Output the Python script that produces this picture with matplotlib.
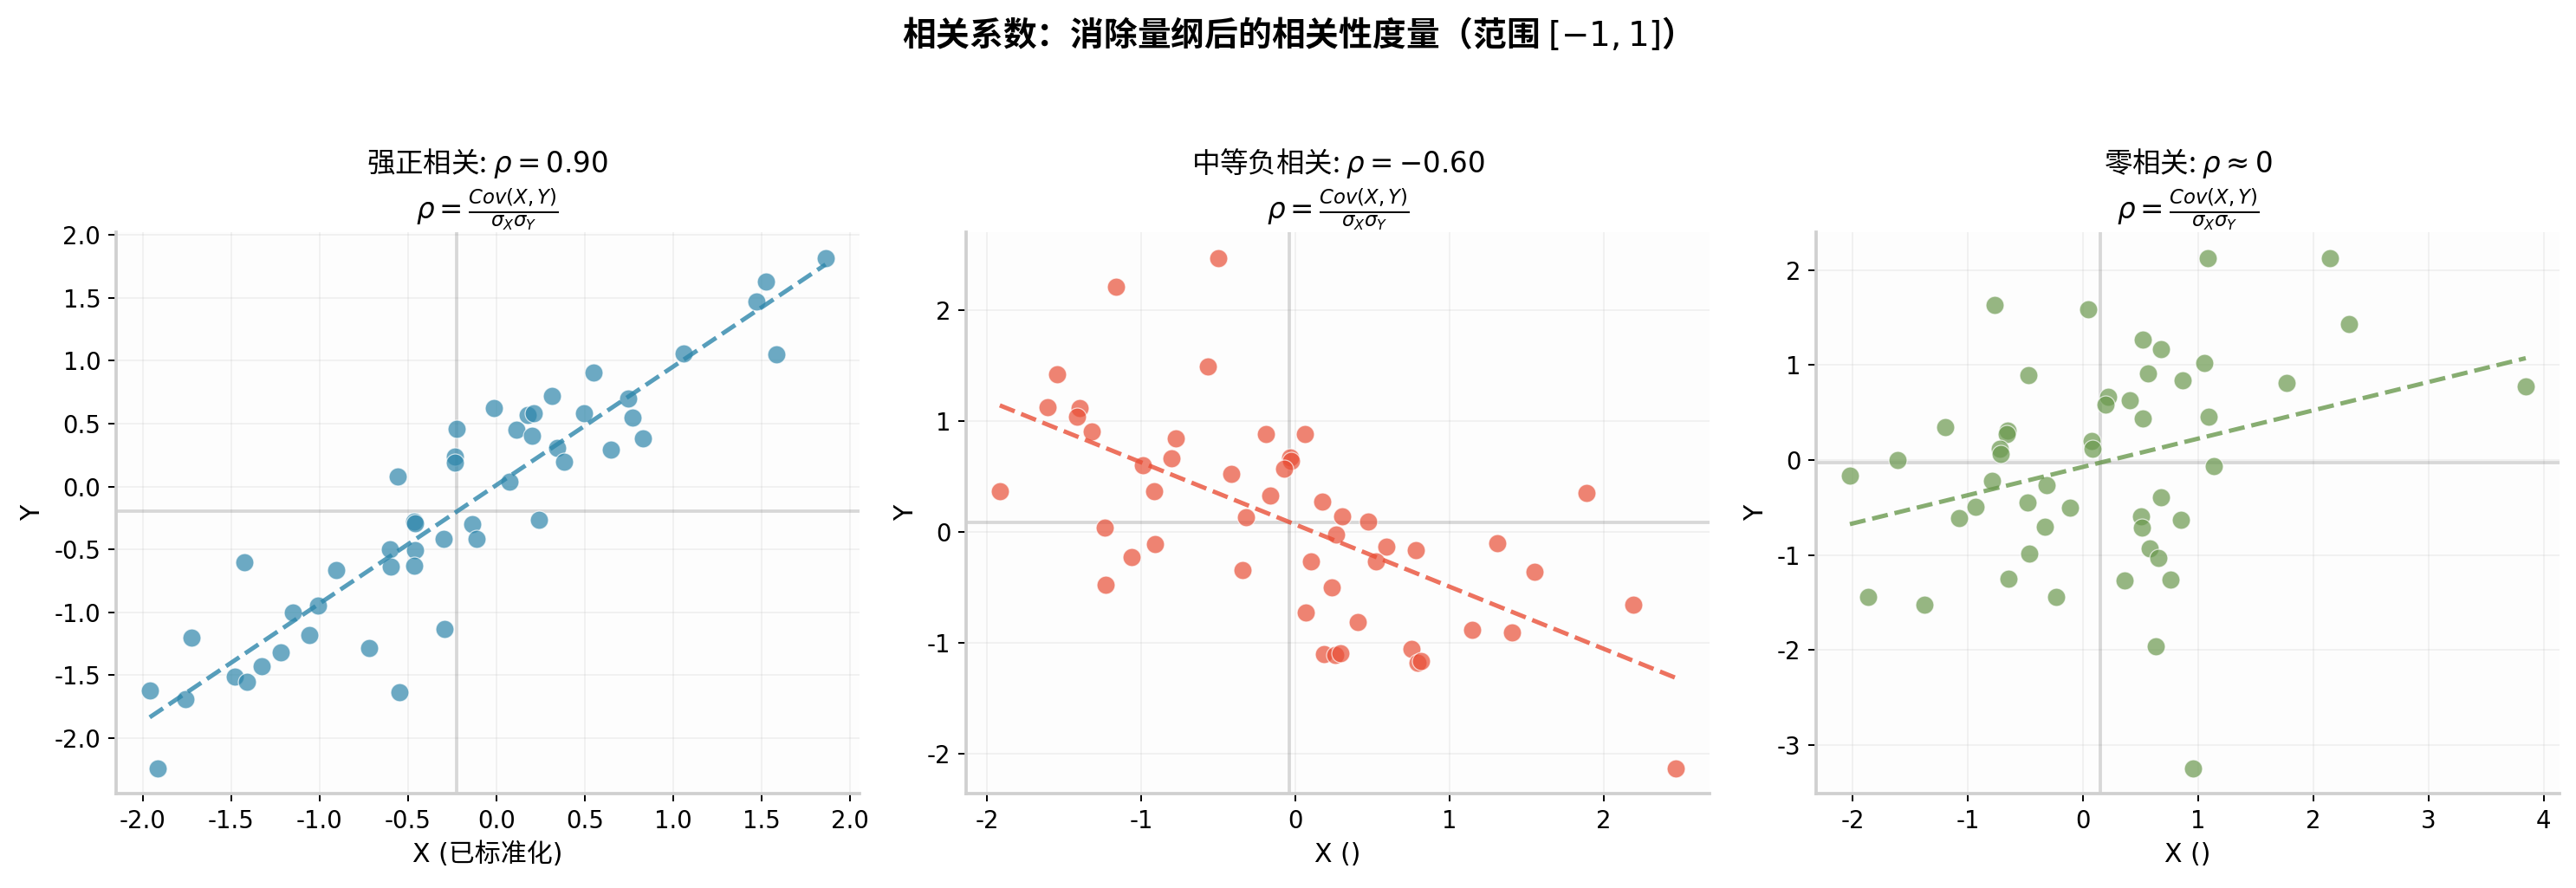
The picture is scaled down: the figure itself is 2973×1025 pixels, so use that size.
import numpy as np
import matplotlib
matplotlib.use('Agg')
import matplotlib.pyplot as plt

plt.rcParams['font.family'] = ['DejaVu Sans', 'Noto Sans CJK SC']
plt.rcParams['axes.unicode_minus'] = False

# strong positive
x_pos = [1.86, 1.525, 1.47, 1.58, 1.06, 0.55, 0.315, 0.745, 0.77, 0.826,
         0.497, 0.646, 0.345, 0.38, -0.014, 0.174, 0.213, 0.115, 0.2, 0.073,
         -0.225, -0.233, -0.233, -0.56, 0.24, -0.463, -0.458, -0.135, -0.115, -0.30,
         -0.60, -0.46, -0.598, -0.463, -1.427, -0.907, -1.011, -1.152, -1.056, -1.725,
         -0.719, -0.292, -1.219, -1.329, -1.48, -1.41, -0.548, -1.96, -1.76, -1.916]
y_pos = [1.82, 1.63, 1.47, 1.05, 1.06, 0.91, 0.72, 0.70, 0.55, 0.385,
         0.58, 0.29, 0.305, 0.20, 0.625, 0.567, 0.582, 0.453, 0.40, 0.04,
         0.46, 0.24, 0.19, 0.08, -0.265, -0.277, -0.296, -0.30, -0.416, -0.416,
         -0.50, -0.505, -0.638, -0.63, -0.60, -0.666, -0.946, -1.00, -1.18, -1.20,
         -1.285, -1.134, -1.32, -1.433, -1.51, -1.553, -1.64, -1.62, -1.695, -2.243]

# moderate negative
x_neg = [-0.502, -1.165, -0.566, -1.548, -1.606, -1.401, -1.416, -1.323, -0.778, -0.19,
         0.061, -0.803, -0.989, -0.032, -0.029, -0.072, -0.419, -1.918, -0.918, -0.161,
         1.885, 0.172, 0.301, 0.473, -0.319, -1.237, 0.262, -0.910, 0.591, 0.781,
         1.308, -1.061, 0.10, 0.523, -0.344, 1.552, -1.229, 0.233, 2.194, 0.068,
         0.405, 1.147, 1.405, 0.753, 0.183, 0.258, 0.294, 0.792, 0.814, 2.466]
y_neg = [2.473, 2.215, 1.495, 1.425, 1.128, 1.114, 1.037, 0.908, 0.845, 0.884,
         0.884, 0.664, 0.604, 0.671, 0.643, 0.566, 0.524, 0.367, 0.367, 0.328,
         0.353, 0.269, 0.143, 0.094, 0.133, 0.035, -0.021, -0.108, -0.133, -0.164,
         -0.101, -0.227, -0.269, -0.269, -0.342, -0.36, -0.475, -0.50, -0.657, -0.727,
         -0.814, -0.884, -0.908, -1.055, -1.107, -1.114, -1.097, -1.184, -1.163, -2.134]

# zero correlation
x_zero = [1.082, 2.145, -0.77, 0.043, 2.31, 0.515, 0.68, 1.049, -0.477, 0.562,
          0.864, 1.767, 3.845, 0.217, 0.406, 0.194, 0.515, 1.091, -1.2, -0.657,
          -0.666, 0.071, 0.085, -0.727, -0.718, -1.615, 1.138, -2.026, -0.794, -0.316,
          -0.482, -0.935, -0.113, 0.675, -1.077, 0.505, 0.85, 0.51, -0.331, -0.468,
          0.576, 0.652, -0.647, 0.359, 0.761, -1.871, -0.236, -1.379, 0.633, 0.954]
y_zero = [2.12, 2.128, 1.627, 1.582, 1.435, 1.264, 1.162, 1.023, 0.897, 0.913,
          0.84, 0.807, 0.77, 0.665, 0.624, 0.587, 0.44, 0.457, 0.35, 0.306,
          0.269, 0.196, 0.114, 0.114, 0.065, 0.0, -0.065, -0.163, -0.216, -0.261,
          -0.448, -0.493, -0.501, -0.391, -0.611, -0.591, -0.632, -0.713, -0.701, -0.986,
          -0.934, -1.035, -1.252, -1.268, -1.26, -1.443, -1.443, -1.525, -1.961, -3.245]

titles = ['强正相关: $\\rho = 0.90$', '中等负相关: $\\rho = -0.60$', '零相关: $\\rho \\approx 0$']
xlabels = ['X (已标准化)', 'X ()', 'X ()']
colors = ['#2E86AB', '#E94F37', '#6A994E']
formula = '$\\rho = \\frac{Cov(X,Y)}{\\sigma_X \\sigma_Y}$'
cjk = 'Noto Sans CJK SC'

fig, axes = plt.subplots(1, 3, figsize=(2973 / 180, 1025 / 180), dpi=180)
fig.subplots_adjust(left=0.045, right=0.9936, bottom=0.106, top=0.7385, wspace=0.1435)

panels = [(x_pos, y_pos), (x_neg, y_neg), (x_zero, y_zero)]
for ax, (xs, ys), title, xlabel, color in zip(axes, panels, titles, xlabels, colors):
    xs = np.array(xs)
    ys = np.array(ys)
    ax.set_facecolor('#fdfdfd')
    ax.scatter(xs, ys, s=70, color=color, alpha=0.7, edgecolor='white', linewidth=0.5, zorder=3)

    k, b = np.polyfit(xs, ys, 1)
    xx = np.array([xs.min(), xs.max()])
    ax.plot(xx, k * xx + b, '--', color=color, linewidth=2, alpha=0.8, zorder=4)

    ax.axvline(xs.mean(), color='gray', alpha=0.3, linewidth=1.5, zorder=2)
    ax.axhline(ys.mean(), color='gray', alpha=0.3, linewidth=1.5, zorder=2)

    ax.set_title(title + '\n' + formula, fontsize=13, family=cjk)
    ax.set_xlabel(xlabel, fontsize=12)
    ax.set_ylabel('Y', fontsize=12)
    ax.tick_params(labelsize=11)
    ax.grid(True, alpha=0.15, linewidth=0.8)
    ax.set_axisbelow(True)
    for side in ['top', 'right']:
        ax.spines[side].set_visible(False)
    for side in ['left', 'bottom']:
        ax.spines[side].set_color('#d0d0d0')
        ax.spines[side].set_linewidth(1.5)

fig.suptitle('相关系数：消除量纲后的相关性度量（范围 $[-1, 1]$）', fontsize=15.5,
             fontweight='bold', family=cjk, y=0.961, va='center')

fig.savefig('out.png', dpi=180)
